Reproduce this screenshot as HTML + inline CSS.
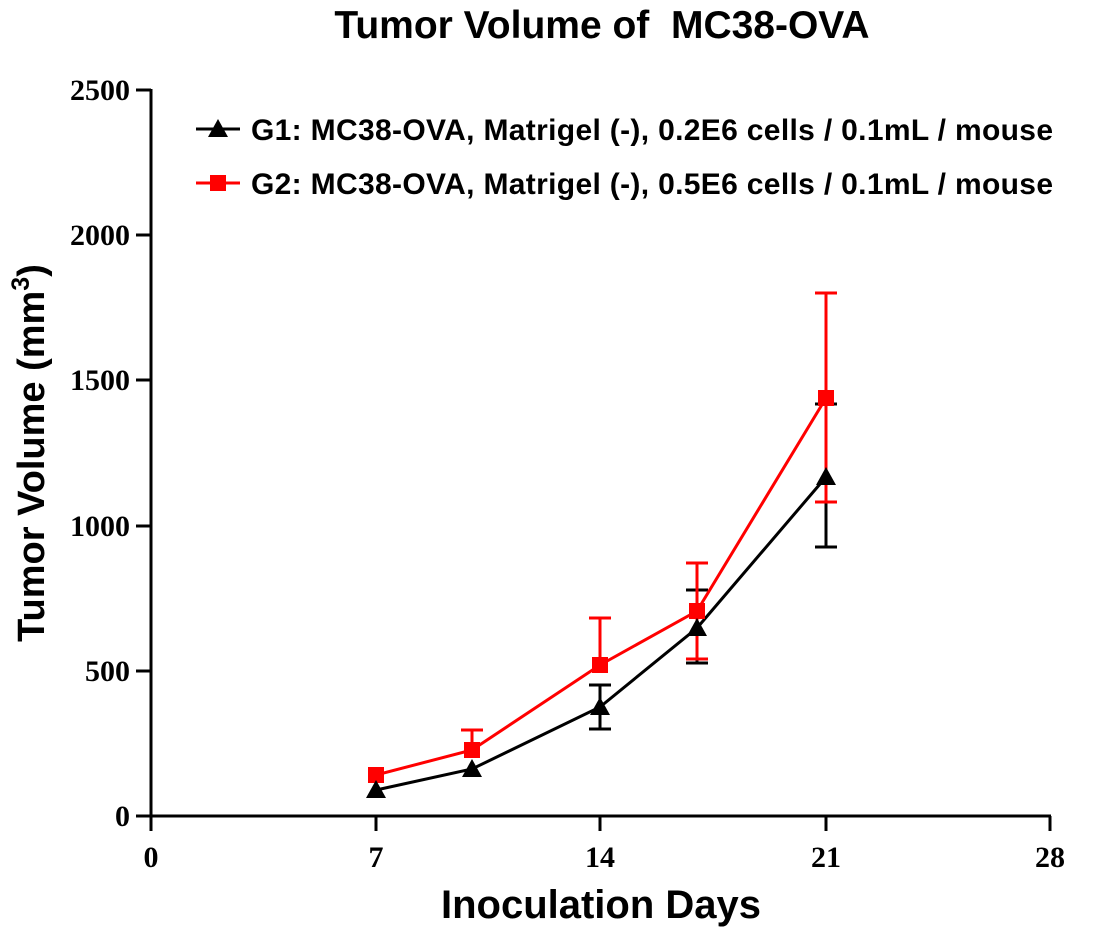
<!DOCTYPE html><html><head><style>body{margin:0;background:#fff}</style></head><body>
<svg width="1108" height="933" xmlns="http://www.w3.org/2000/svg">
<rect width="1108" height="933" fill="#fff"/>
<text x="602" y="38" font-family="Liberation Sans" font-weight="bold" font-size="39" text-anchor="middle" style="white-space:pre">Tumor Volume of  MC38-OVA</text>
<g stroke="#000" stroke-width="3" fill="none">
<line x1="151" y1="89" x2="151" y2="817"/>
<line x1="136" y1="816" x2="1051" y2="816"/>
<line x1="136" y1="90" x2="151" y2="90"/><line x1="136" y1="235" x2="151" y2="235"/><line x1="136" y1="380" x2="151" y2="380"/><line x1="136" y1="526" x2="151" y2="526"/><line x1="136" y1="671" x2="151" y2="671"/>
<line x1="151" y1="816" x2="151" y2="831"/><line x1="376" y1="816" x2="376" y2="831"/><line x1="600" y1="816" x2="600" y2="831"/><line x1="826" y1="816" x2="826" y2="831"/><line x1="1050" y1="816" x2="1050" y2="831"/>
</g>
<g font-family="Liberation Serif" font-weight="bold" font-size="30" text-anchor="end">
<text x="130" y="100">2500</text><text x="130" y="245">2000</text><text x="130" y="390">1500</text><text x="130" y="536">1000</text><text x="130" y="681">500</text><text x="130" y="826">0</text>
</g>
<g font-family="Liberation Serif" font-weight="bold" font-size="30" text-anchor="middle">
<text x="151" y="867">0</text><text x="376" y="867">7</text><text x="600" y="867">14</text><text x="826" y="867">21</text><text x="1050" y="867">28</text>
</g>
<text x="601" y="918" font-family="Liberation Sans" font-weight="bold" font-size="40" text-anchor="middle">Inoculation Days</text>
<text transform="translate(44,453) rotate(-90)" font-family="Liberation Sans" font-weight="bold" font-size="38" text-anchor="middle">Tumor Volume (mm<tspan font-size="25" dy="-15">3</tspan><tspan dy="15">)</tspan></text>
<g stroke="#000" stroke-width="3">
<line x1="600" y1="685" x2="600" y2="729"/><line x1="589" y1="685" x2="611" y2="685"/><line x1="589" y1="729" x2="611" y2="729"/>
<line x1="697" y1="590" x2="697" y2="663"/><line x1="686" y1="590" x2="708" y2="590"/><line x1="686" y1="663" x2="708" y2="663"/>
<line x1="826" y1="404" x2="826" y2="547"/><line x1="815" y1="404" x2="837" y2="404"/><line x1="815" y1="547" x2="837" y2="547"/>
</g>
<g stroke="#f00" stroke-width="3">
<line x1="472" y1="730" x2="472" y2="750"/><line x1="461" y1="730" x2="483" y2="730"/>
<line x1="600" y1="618" x2="600" y2="665"/><line x1="589" y1="618" x2="611" y2="618"/>
<line x1="697" y1="563" x2="697" y2="659"/><line x1="686" y1="563" x2="708" y2="563"/><line x1="686" y1="659" x2="708" y2="659"/>
<line x1="826" y1="293" x2="826" y2="502"/><line x1="815" y1="293" x2="837" y2="293"/><line x1="815" y1="502" x2="837" y2="502"/>
</g>
<polyline points="376,775 472,750 600,665 697,611 826,398" fill="none" stroke="#f00" stroke-width="3"/>
<polyline points="376,790 472,769 600,707 697,628 826,477" fill="none" stroke="#000" stroke-width="3"/>
<g fill="#f00">
<rect x="368" y="767" width="16" height="16"/><rect x="464" y="742" width="16" height="16"/><rect x="592" y="657" width="16" height="16"/><rect x="689" y="603" width="16" height="16"/><rect x="818" y="390" width="16" height="16"/>
</g>
<g fill="#000">
<polygon points="376,780 366,798 386,798"/><polygon points="472,759 462,777 482,777"/><polygon points="600,697 590,715 610,715"/><polygon points="697,618 687,636 707,636"/><polygon points="826,467 816,485 836,485"/>
</g>
<line x1="196" y1="129" x2="240" y2="129" stroke="#000" stroke-width="3"/><polygon points="218,119 208,137 228,137"/>
<line x1="196" y1="183" x2="240" y2="183" stroke="#f00" stroke-width="3"/><rect x="210" y="175" width="16" height="16" fill="#f00"/>
<g font-family="Liberation Sans" font-weight="bold" font-size="30">
<text x="251" y="140" textLength="802">G1: MC38-OVA, Matrigel (-), 0.2E6 cells / 0.1mL / mouse</text>
<text x="251" y="194" textLength="802">G2: MC38-OVA, Matrigel (-), 0.5E6 cells / 0.1mL / mouse</text>
</g>
</svg></body></html>
